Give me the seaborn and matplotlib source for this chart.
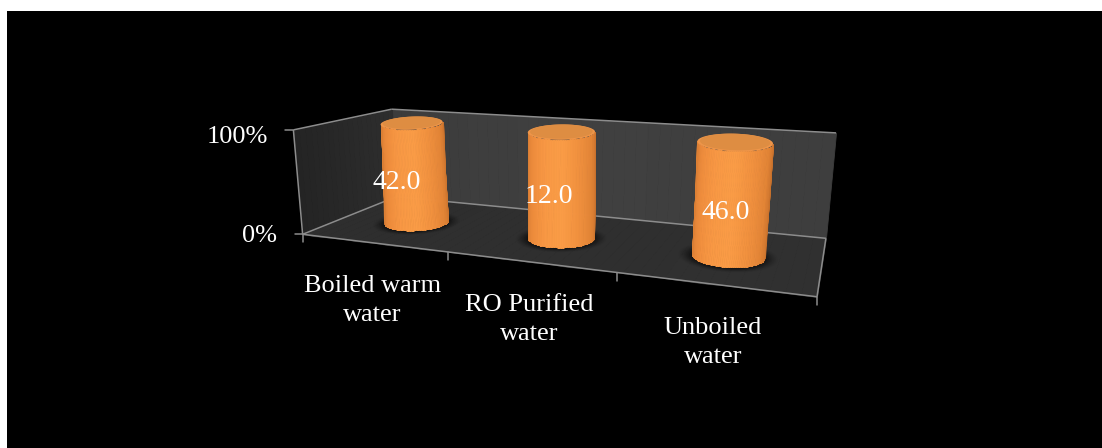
import numpy as np
import matplotlib
matplotlib.use("Agg")
import matplotlib.pyplot as plt
from matplotlib.transforms import Affine2D
import seaborn as sns

# ---- data ----
categories = ["Boiled warm\nwater", "RO Purified\nwater", "Unboiled\nwater"]
values = [42.0, 12.0, 46.0]
shares = [100, 100, 100]          # 100 % stacked single series: every column fills the axis
pct_ticks = [0, 100]
pct_labels = ["0%", "100%"]

W, H = 1102, 448
sns.set_theme(style="dark", rc={"figure.facecolor": "white", "axes.facecolor": "black"})
plt.rcParams["font.family"] = ["Liberation Serif", "DejaVu Serif"]

fig = plt.figure(figsize=(W / 100, H / 100), dpi=100)
ax = fig.add_axes([7 / W, 0, (W - 7) / W, (H - 11) / H])

# The columns come from seaborn; their geometry is then projected through the 3D box
sns.barplot(x=list(range(len(categories))), y=shares, ax=ax, width=0.40, native_scale=True, color="#F79646")
ax.set_xlim(-0.5, 2.5)
ax.set_ylim(0, 100)
ax.set_xticks([]); ax.set_yticks([])
ax.set_xlabel(""); ax.set_ylabel("")
sns.despine(ax=ax, left=True, bottom=True)
bars = [(p.get_x() + p.get_width() / 2, p.get_width(), p.get_height()) for p in ax.patches]
for p in ax.patches:
    p.set_visible(False)

# pixel space (y down) -> display
pix = Affine2D().scale(1, -1).translate(0, H)

# ---- camera calibrated on the box corners (u categories, d depth, h share) ----
cal_u = [0, 3, 0, 3, 0, 3, 0]
cal_d = [0, 0, 1, 1, 1, 1, 0]
cal_h = [0, 0, 0, 0, 1, 1, 1]
cal_x = [303, 817, 396, 826, 392, 836, 293]
cal_y = [234, 297, 197, 238, 109, 133, 130]
A = []
for u, d, h, x, y in zip(cal_u, cal_d, cal_h, cal_x, cal_y):
    x, y = x / 1000, y / 1000
    A.append([u, d, h, 1, 0, 0, 0, 0, -x * u, -x * d, -x * h, -x])
    A.append([0, 0, 0, 0, u, d, h, 1, -y * u, -y * d, -y * h, -y])
P = np.linalg.svd(np.array(A))[2][-1].reshape(3, 4)


def proj(u, d, h):
    u, d, h = np.broadcast_arrays(np.asarray(u, float), np.asarray(d, float), np.asarray(h, float))
    q = np.stack([u, d, h, np.ones_like(u)], -1) @ P.T
    return 1000 * q[..., 0] / q[..., 2], 1000 * q[..., 1] / q[..., 2]


def rgb(stops, t):
    stops = np.array(stops, float)
    xs = np.linspace(0, 1, len(stops))
    return np.stack([np.interp(t, xs, stops[:, i]) for i in range(3)], -1) / 255


def mesh(X, Y, C, z):
    ax.pcolormesh(X, Y, C, transform=pix, shading="flat", antialiased=True, edgecolors="face",
                  linewidth=0.6, zorder=z)


def wall(ug, dg, hg, colors, z):
    X, Y = proj(ug, dg, hg)
    ny, nx = X.shape[0] - 1, X.shape[1] - 1
    c = rgb(colors, np.linspace(0, 1, nx))
    mesh(X, Y, np.repeat(c[None, :, :], ny, axis=0), z)


uu = np.linspace(0, 3, 41)
dd = np.linspace(0, 1, 21)
# back wall
wall(np.tile(uu, (2, 1)), np.ones((2, 41)), np.array([[0.0] * 41, [1.0] * 41]),
     [(60, 60, 60), (64, 64, 64), (62, 62, 62)], 1)
# left wall
wall(np.zeros((2, 21)), np.tile(dd, (2, 1)), np.array([[0.0] * 21, [1.0] * 21]),
     [(36, 36, 36), (46, 46, 46)], 1)
# floor
wall(np.tile(uu, (2, 1)), np.array([[0.0] * 41, [1.0] * 41]), np.zeros((2, 41)),
     [(46, 46, 46), (48, 48, 48)], 1)

LINE = "#8C8C8C"


def seg(a, b, z=2):
    x, y = proj(*np.array([a, b]).T)
    ax.plot(x, y, color=LINE, lw=1.1, transform=pix, zorder=z, solid_capstyle="butt")


seg((0, 0, 0), (3, 0, 0)); seg((0, 0, 0), (0, 1, 0)); seg((0, 1, 0), (3, 1, 0)); seg((3, 0, 0), (3, 1, 0))
seg((0, 0, 0), (0, 0, 1)); seg((0, 0, 1), (0, 1, 1)); seg((0, 1, 1), (3, 1, 1))

# ticks
for i in range(len(categories) + 1):
    x, y = proj(i, 0, 0)
    ax.plot([x, x], [y, y + 8], color=LINE, lw=1.1, transform=pix, zorder=2)
for pct, lab in zip(pct_ticks, pct_labels):
    x, y = proj(0, 0, pct / 100)
    ax.plot([x - 8, x], [y, y], color=LINE, lw=1.1, transform=pix, zorder=2)
    ax.text(x - 25.5, y + (7 if pct else 2), lab, transform=pix, ha="right", va="center",
            color="white", fontsize=19, zorder=6)

# category labels
for i, lab in enumerate(categories):
    x0, y0 = proj(i, 0, 0)
    x1, y1 = proj(i + 1, 0, 0)
    ax.text(x0 + (x1 - x0) * 0.48, (y0 + y1) / 2 + 57.5, lab, transform=pix, ha="center", va="center",
            color="white", fontsize=19, linespacing=1.4, zorder=6)

# ---- cylinders ----
DEPTH_R = 0.2
AXIS_D = 0.47
CAP_DEPTH = 0.8     # the cap ellipse keeps most of the floor-plane opening
BODY = [(218, 126, 52), (238, 140, 60), (248, 152, 68), (250, 156, 70), (240, 144, 62), (226, 132, 54), (192, 108, 42)]


def ellipse(cu, ru, h, scale=1.0):
    c = np.array(proj(cu, AXIS_D, h))
    a = (np.array(proj(cu + ru, AXIS_D, h)) - np.array(proj(cu - ru, AXIS_D, h))) / 2
    b = (np.array(proj(cu, AXIS_D + DEPTH_R, 0)) - np.array(proj(cu, AXIS_D - DEPTH_R, 0))) / 2
    if h > 0:
        b = b * CAP_DEPTH
    return c, a * scale, b * scale


for cx, bw, share in bars:
    cu = cx + 0.5
    ru = bw / 2
    top = share / 100
    cb, ab, bb = ellipse(cu, ru, 0)
    ct, at, bt = ellipse(cu, ru, top)
    axis = (ct - cb) / np.linalg.norm(ct - cb)
    n = np.array([-axis[1], axis[0]])  # perpendicular to the column axis

    # contact shadow
    th = np.linspace(0, 2 * np.pi, 80)
    for k, al in zip(np.linspace(1.36, 1.02, 8), [0.04, 0.05, 0.06, 0.08, 0.10, 0.12, 0.14, 0.16]):
        sx = cb[0] + k * (ab[0] * np.cos(th) + bb[0] * np.sin(th))
        sy = cb[1] + 1 + k * (ab[1] * np.cos(th) + bb[1] * np.sin(th))
        ax.fill(sx, sy, color="black", alpha=al, lw=0, transform=pix, zorder=3)

    def silhouette(c, a, b, s):
        t0 = np.arctan2(n @ b, n @ a)
        # choose the half that runs along the lower (larger y) side
        mid = c + a * np.cos(t0 + np.pi / 2) + b * np.sin(t0 + np.pi / 2)
        sign = 1 if mid[1] > c[1] else -1
        t = t0 + sign * np.pi * s
        return c[:, None] + np.outer(a, np.cos(t)) + np.outer(b, np.sin(t))

    s = np.linspace(0, 1, 61)
    pb = silhouette(cb, ab, bb, s)
    pt = silhouette(ct, at, bt, s)
    hs = np.linspace(0, 1, 3)[:, None]
    X = pb[0][None, :] * (1 - hs) + pt[0][None, :] * hs
    Y = pb[1][None, :] * (1 - hs) + pt[1][None, :] * hs
    # orient shading left -> right on the picture
    sc = (s[:-1] + s[1:]) / 2
    left_to_right = sc if pb[0][0] < pb[0][-1] else 1 - sc
    mesh(X, Y, np.repeat(rgb(BODY, left_to_right)[None, :, :], 2, axis=0), 4)

    # top cap: lit rim and a darker inner face
    for sc_k, col in zip([1.0, 0.93], ["#EE9549", "#DE8D42"]):
        c0, a0, b0 = ellipse(cu, ru, top, sc_k)
        ex = c0[0] + a0[0] * np.cos(th) + b0[0] * np.sin(th)
        ey = c0[1] + a0[1] * np.cos(th) + b0[1] * np.sin(th) - (1 - sc_k) * 8
        ax.fill(ex, ey, color=col, lw=0, transform=pix, zorder=5)

# data labels
LABEL_D, LABEL_H = 0.28, 0.47
for (cx, bw, share), v in zip(bars, values):
    x, y = proj(cx + 0.5, LABEL_D, LABEL_H)
    ax.text(x, y, f"{v:.1f}", transform=pix, ha="center", va="center", color="white", fontsize=20, zorder=7)

fig.savefig("out.png", dpi=100, facecolor="white")
